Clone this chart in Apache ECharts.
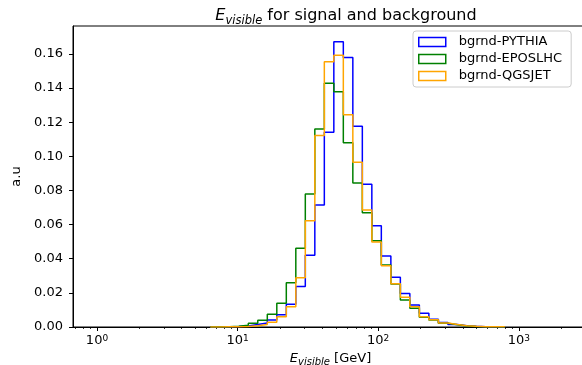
<!DOCTYPE html>
<html>
<head>
<meta charset="utf-8">
<script src="https://cdn.jsdelivr.net/npm/echarts@6/dist/echarts.min.js"></script>
<style>
  html, body { margin: 0; padding: 0; background: #fff; }
  #chart { width: 582px; height: 365px; }
</style>
</head>
<body>
<div id="chart"></div>
<script>
// Bin edges (GeV), log-spaced histogram bins
const binEdges = [6.39, 7.47, 8.73, 10.20, 11.92, 13.92, 16.27, 19.01, 22.21, 25.95, 30.32,
  35.43, 41.40, 48.37, 56.51, 66.03, 77.15, 90.14, 105.3, 123.1, 143.8, 168.0, 196.3,
  229.4, 268.0, 313.2, 365.9, 427.5, 499.5, 583.6, 681.9, 796.7];

const pythia = [0.0001, 0.0002, 0.0003, 0.0006, 0.0014, 0.0024, 0.0041, 0.0072, 0.0133, 0.0238,
  0.0420, 0.0715, 0.1141, 0.1672, 0.1580, 0.1176, 0.0836, 0.0594, 0.0416, 0.0291, 0.0197,
  0.0129, 0.0080, 0.0045, 0.0027, 0.0015, 0.0008, 0.0004, 0.0002, 0.0001, 0.00005];

const eposlhc = [0.0001, 0.0002, 0.0004, 0.0010, 0.0022, 0.0039, 0.0074, 0.0139, 0.0260, 0.0461,
  0.0779, 0.1160, 0.1428, 0.1379, 0.1080, 0.0844, 0.0670, 0.0506, 0.0363, 0.0252, 0.0158,
  0.0110, 0.0057, 0.0041, 0.0022, 0.0013, 0.0006, 0.0003, 0.0002, 0.0001, 0.00005];

const qgsjet = [0.00005, 0.0001, 0.0001, 0.0003, 0.0007, 0.0014, 0.0028, 0.0060, 0.0119, 0.0289,
  0.0623, 0.1123, 0.1555, 0.1592, 0.1244, 0.0965, 0.0686, 0.0498, 0.0359, 0.0254, 0.0174,
  0.0119, 0.0060, 0.0043, 0.0024, 0.0014, 0.0007, 0.0004, 0.0002, 0.0001, 0.0001];

const seriesNames = ['bgrnd-PYTHIA', 'bgrnd-EPOSLHC', 'bgrnd-QGSJET'];
const seriesColors = ['#0000ff', '#008000', '#ffa500'];

const xMajorTicks = [1, 10, 100, 1000];
const xMinorTicks = [0.7, 0.8, 0.9, 2, 3, 4, 5, 6, 7, 8, 9, 20, 30, 40, 50, 60, 70, 80, 90,
  200, 300, 400, 500, 600, 700, 800, 900, 2000, 3000];
const yTicks = [0, 0.02, 0.04, 0.06, 0.08, 0.10, 0.12, 0.14, 0.16];

// Build step-histogram outline (matplotlib histtype='step')
function stepOutline(edges, vals) {
  const pts = [[edges[0], 0]];
  for (let i = 0; i < vals.length; i++) {
    pts.push([edges[i], vals[i]]);
    pts.push([edges[i + 1], vals[i]]);
  }
  pts.push([edges[edges.length - 1], 0]);
  return pts;
}

const FONT = 'DejaVu Sans';
const X_MIN = 0.675, X_MAX = 3108;

const chart = echarts.init(document.getElementById('chart'), null, { renderer: 'canvas' });

const option = {
  animation: false,
  backgroundColor: '#ffffff',
  textStyle: { fontFamily: FONT, color: '#000' },
  title: {
    text: '{e|E}{sub|visible}{n| for signal and background}',
    left: 341,
    top: 6,
    textAlign: 'center',
    textStyle: {
      fontWeight: 'normal',
      rich: {
        e: { fontFamily: FONT, fontStyle: 'italic', fontWeight: 'normal', fontSize: 16, lineHeight: 16, color: '#000', verticalAlign: 'bottom', padding: [0, 0, 3, 0] },
        sub: { fontFamily: FONT, fontStyle: 'italic', fontWeight: 'normal', fontSize: 11.5, lineHeight: 11.5, color: '#000', verticalAlign: 'bottom' },
        n: { fontFamily: FONT, fontWeight: 'normal', fontSize: 16, lineHeight: 16, color: '#000', verticalAlign: 'bottom', padding: [0, 0, 3, 0] }
      }
    }
  },
  legend: {
    left: 413,
    top: 31,
    orient: 'vertical',
    itemWidth: 27,
    itemHeight: 9,
    itemGap: 3,
    padding: [4, 9, 4, 5],
    backgroundColor: '#ffffff',
    borderColor: '#cccccc',
    borderWidth: 1,
    borderRadius: 3,
    textStyle: { fontFamily: FONT, fontSize: 13, lineHeight: 14, color: '#000', padding: [0, 0, 0, 8] },
    data: seriesNames.map((n, i) => ({
      name: n,
      icon: 'rect',
      itemStyle: { color: '#ffffff', borderColor: seriesColors[i], borderWidth: 1.5 }
    }))
  },
  grid: {
    left: 73,
    right: -6,
    top: 26,
    bottom: 38,
    outerBoundsMode: 'none',
    containLabel: false,
    show: true,
    borderColor: '#000',
    borderWidth: 1,
    backgroundColor: 'transparent'
  },
  xAxis: [
    {
      type: 'log',
      logBase: 10,
      min: X_MIN,
      max: X_MAX,
      name: '{e|E}{sub|visible}{n| [GeV]}',
      nameLocation: 'middle',
      nameGap: 21,
      nameTextStyle: {
        rich: {
          e: { fontFamily: FONT, fontStyle: 'italic', fontSize: 13, lineHeight: 13, color: '#000', verticalAlign: 'bottom', padding: [0, 0, 3, 0] },
          sub: { fontFamily: FONT, fontStyle: 'italic', fontSize: 10, lineHeight: 10, color: '#000', verticalAlign: 'bottom' },
          n: { fontFamily: FONT, fontSize: 13, lineHeight: 13, color: '#000', verticalAlign: 'bottom', padding: [0, 0, 3, 0] }
        }
      },
      axisLine: { show: true, onZero: false, lineStyle: { color: '#000', width: 1 } },
      axisTick: { show: true, inside: false, length: 4, lineStyle: { color: '#000', width: 1 }, customValues: xMajorTicks },
      axisLabel: {
        show: true,
        margin: 7,
        customValues: xMajorTicks,
        formatter: function (v) {
          const e = Math.round(Math.log10(v));
          return '{b|10}{s|' + e + '}';
        },
        rich: {
          b: { fontFamily: FONT, fontSize: 13, lineHeight: 13, color: '#000', verticalAlign: 'bottom', padding: [4, 0, 0, 0] },
          s: { fontFamily: FONT, fontSize: 9, lineHeight: 9, color: '#000', verticalAlign: 'top' }
        }
      },
      splitLine: { show: false },
      minorTick: { show: false }
    },
    {
      type: 'log',
      logBase: 10,
      min: X_MIN,
      max: X_MAX,
      position: 'bottom',
      axisLine: { show: false },
      axisTick: { show: true, inside: false, length: 2, lineStyle: { color: '#000', width: 0.8 }, customValues: xMinorTicks },
      axisLabel: { show: false },
      splitLine: { show: false }
    }
  ],
  yAxis: {
    type: 'value',
    min: 0,
    max: 0.1764,
    name: 'a.u',
    nameLocation: 'middle',
    nameRotate: 90,
    nameGap: 39,
    nameTextStyle: { fontFamily: FONT, fontSize: 13, color: '#000' },
    axisLine: { show: true, onZero: false, lineStyle: { color: '#000', width: 1 } },
    axisTick: { show: true, inside: false, length: 4, lineStyle: { color: '#000', width: 1 }, customValues: yTicks },
    axisLabel: {
      show: true,
      margin: 10,
      customValues: yTicks,
      fontFamily: FONT,
      fontSize: 13,
      color: '#000',
      formatter: v => v.toFixed(2)
    },
    splitLine: { show: false }
  },
  series: [pythia, eposlhc, qgsjet].map((vals, i) => ({
    name: seriesNames[i],
    type: 'line',
    xAxisIndex: 0,
    data: stepOutline(binEdges, vals),
    showSymbol: false,
    symbol: 'none',
    lineStyle: { color: seriesColors[i], width: 1.5 },
    itemStyle: { color: seriesColors[i] },
    z: 2 + i,
    silent: true
  }))
};

chart.setOption(option);
</script>
</body>
</html>
